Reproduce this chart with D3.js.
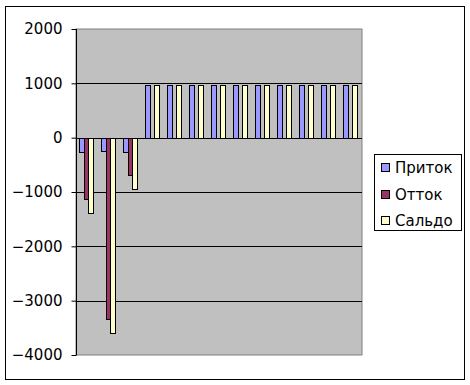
<!DOCTYPE html>
<html><head><meta charset="utf-8">
<script src="https://cdn.jsdelivr.net/npm/d3@7"></script>
<style>body{margin:0;background:#fff}</style>
</head><body>
<svg id="c" width="470" height="385"></svg>
<script>
const categories = ["1","2","3","4","5","6","7","8","9","10","11","12","13"];
const seriesNames = ["Приток","Отток","Сальдо"];
const inflow  = [-250,-240,-250,970,970,970,970,970,970,970,970,970,970];
const outflow = [-1130,-3340,-680,0,0,0,0,0,0,0,0,0,0];
const saldo   = [-1380,-3580,-930,970,970,970,970,970,970,970,970,970,970];
const yTicks = [2000,1000,0,-1000,-2000,-3000,-4000];
const colors = ["#9999FF","#993366","#FFFFCC"];

const series = [inflow, outflow, saldo];
const svg = d3.select("#c");
const font = "DejaVu Sans, Verdana, sans-serif";

svg.append("rect").attr("x",5.5).attr("y",6.5).attr("width",459).attr("height",373)
  .attr("fill","#fff").attr("stroke","#000");

const L=76, R=362, T=29, B=355;
const y = d3.scaleLinear().domain([-4000,2000]).range([B,T]);
const x0 = d3.scaleBand().domain(categories).range([L,R]).paddingInner(0).paddingOuter(0);
const gapFrac = 1.5;
const bw = x0.bandwidth()/(3+gapFrac);
const x1 = d3.scaleBand().domain(seriesNames).range([bw*gapFrac/2 - 1, bw*gapFrac/2 - 1 + 3*bw]);

svg.append("rect").attr("x",L).attr("y",T).attr("width",R-L).attr("height",B-T)
  .attr("fill","#C0C0C0").attr("stroke","#808080");

svg.append("g").selectAll("line").data(yTicks.filter(t=>t!==2000&&t!==-4000)).join("line")
  .attr("x1",L).attr("x2",R).attr("y1",d=>Math.round(y(d))+0.5).attr("y2",d=>Math.round(y(d))+0.5)
  .attr("stroke","#000");

const g = svg.append("g");
series.forEach((vals,si)=>{
  g.append("g").selectAll("rect").data(vals).join("rect")
    .attr("x",(d,i)=>Math.round(x0(categories[i])+x1(seriesNames[si]))+0.5)
    .attr("y",d=>Math.round(y(Math.max(0,d)))+0.5)
    .attr("width",Math.round(bw))
    .attr("height",d=>Math.round(Math.abs(y(d)-y(0))))
    .attr("fill",colors[si]).attr("stroke","#000")
    .attr("display",d=>d===0?"none":null);
});

const axis = d3.axisLeft(y).tickValues(yTicks).tickSize(5).tickPadding(9).tickFormat(d3.format("d"));
const ag = svg.append("g").attr("transform",`translate(${L+0.5},0)`).call(axis);
ag.select(".domain").attr("stroke","#000").attr("d",`M0,${T}V${B}`);
ag.selectAll(".tick line").attr("stroke","#000");
ag.selectAll("text").attr("font-family",font).attr("font-size","15px").attr("fill","#000");

const lg = svg.append("g");
lg.append("rect").attr("x",374.5).attr("y",154.5).attr("width",87).attr("height",76)
  .attr("fill","#fff").attr("stroke","#000");
seriesNames.forEach((n,i)=>{
  const yy = 163 + i*26.5;
  lg.append("rect").attr("x",381.5).attr("y",Math.round(yy)+0.5).attr("width",8).attr("height",8)
    .attr("fill",colors[i]).attr("stroke","#000");
  lg.append("text").attr("x",395).attr("y",Math.round(yy)+10).text(n)
    .attr("font-family",font).attr("font-size","15px").attr("fill","#000");
});
</script>
</body></html>
